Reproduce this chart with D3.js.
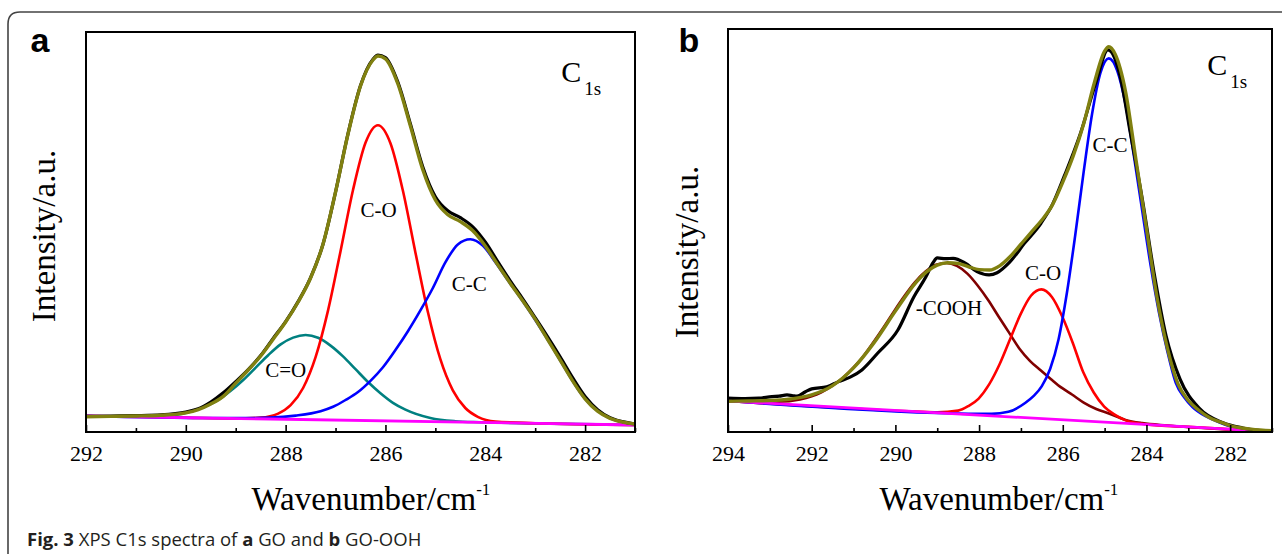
<!DOCTYPE html>
<html>
<head>
<meta charset="utf-8">
<script src="https://cdn.jsdelivr.net/npm/d3@7"></script>
<style>
  html, body { margin: 0; padding: 0; background: #fff; }
  svg { display: block; }
</style>
</head>
<body>
<svg id="fig" width="1282" height="554"></svg>
<script>
// ---- panel a : GO ----
const ticksA = [292, 291, 290, 289, 288, 287, 286, 285, 284, 283, 282, 281];
const baseA = [[292, 4.0], [281, 1.75]];
const coA = [[292, 4.0], [290, 3.6], [289.0, 3.4], [288.5, 3.6], [288.15, 4.6], [287.9, 6.7], [287.65, 11.0], [287.4, 18.7], [287.15, 30.4], [286.9, 45.2], [286.65, 60.5], [286.4, 72.3], [286.15, 76.7], [285.9, 72.2], [285.65, 60.3], [285.4, 44.9], [285.15, 30.0], [284.9, 18.2], [284.65, 10.4], [284.4, 6.0], [284.15, 3.8], [283.8, 2.6], [283.0, 2.2], [281, 1.75]];
const ccA = [[292, 4.0], [289.5, 3.5], [288.8, 3.5], [288.3, 3.6], [287.8, 4.1], [287.3, 5.2], [287.05, 6.3], [286.8, 8.0], [286.55, 10.0], [286.3, 12.8], [286.05, 16.2], [285.8, 20.5], [285.55, 25.2], [285.3, 30.4], [285.05, 36.0], [284.8, 42.4], [284.55, 46.9], [284.3, 48.2], [284.05, 46.6], [283.8, 42.5], [283.55, 38.0], [283.3, 33.6], [283.05, 29.0], [282.8, 24.1], [282.55, 19.0], [282.3, 13.8], [282.05, 9.1], [281.8, 5.8], [281.55, 3.7], [281.3, 2.6], [281, 2.0]];
const c2oA = [[292, 4.0], [291.0, 3.85], [290.6, 3.9], [290.1, 4.5], [289.6, 6.4], [289.35, 8.0], [289.1, 10.3], [288.85, 13.0], [288.6, 16.1], [288.35, 19.2], [288.1, 21.9], [287.85, 23.6], [287.6, 24.25], [287.35, 23.55], [287.1, 21.6], [286.85, 18.9], [286.6, 15.7], [286.35, 12.5], [286.1, 9.7], [285.85, 7.3], [285.6, 5.6], [285.1, 3.5], [284.6, 2.7], [284.1, 2.45], [283, 2.16], [281, 1.75]];
const fitA = [[292, 3.8], [291.5, 3.9], [291, 4.0], [290.5, 4.2], [290, 4.8], [289.75, 5.6], [289.5, 7.0], [289.25, 8.9], [289, 12.2], [288.75, 15.5], [288.5, 19.0], [288.25, 23.2], [288, 27.5], [287.75, 32.5], [287.5, 38.5], [287.25, 47.0], [287, 60.0], [286.75, 74.5], [286.5, 86.5], [286.25, 93.0], [286.15, 94.0], [286, 93.3], [285.75, 87.0], [285.5, 76.5], [285.25, 65.5], [285, 58.0], [284.75, 54.3], [284.5, 52.6], [284.25, 50.3], [284, 46.5], [283.75, 41.8], [283.5, 37.2], [283.25, 32.8], [283, 28.2], [282.75, 23.1], [282.5, 18.0], [282.25, 12.8], [282, 8.3], [281.75, 5.2], [281.5, 3.4], [281.25, 2.5], [281, 2.0]];
const rawA = [[292, 3.9], [291.5, 4.0], [291, 4.1], [290.5, 4.3], [290, 5.0], [289.75, 5.8], [289.5, 7.5], [289.25, 9.8], [289, 12.6], [288.75, 15.6], [288.5, 19.1], [288.25, 23.4], [288, 27.6], [287.75, 32.6], [287.5, 38.6], [287.25, 47.0], [287, 60.0], [286.75, 74.6], [286.5, 86.6], [286.25, 93.2], [286.15, 94.2], [286, 93.6], [285.75, 87.4], [285.5, 77.0], [285.25, 66.2], [285, 58.8], [284.75, 55.3], [284.5, 53.6], [284.25, 51.3], [284, 47.5], [283.75, 42.6], [283.5, 37.8], [283.25, 33.3], [283, 28.6], [282.75, 23.8], [282.5, 18.8], [282.25, 13.6], [282, 8.9], [281.75, 5.6], [281.5, 3.6], [281.25, 2.6], [281, 2.0]];

// ---- panel b : GO-OOH ----
const ticksB = [294, 293, 292, 291, 290, 289, 288, 287, 286, 285, 284, 283, 282, 281];
const baseB = [[294, 7.7], [281, 0.1]];
const ccB = [[294, 7.7], [288.6, 4.6], [288.1, 4.5], [287.7, 4.5], [287.3, 5.0], [286.9, 7.2], [286.7, 8.9], [286.5, 11.4], [286.3, 15.7], [286.1, 23.0], [285.9, 34.6], [285.7, 49.0], [285.5, 64.6], [285.3, 78.9], [285.1, 89.1], [284.9, 92.7], [284.7, 89.7], [284.5, 81.3], [284.3, 68.5], [284.1, 54.8], [283.9, 41.3], [283.7, 29.6], [283.5, 20.0], [283.3, 12.2], [283.1, 8.6], [282.9, 6.2], [282.6, 4.0], [282.4, 3.0], [282.0, 1.4], [281.5, 0.6], [281.0, 0.2]];
const coB = [[294, 7.7], [289.5, 5.07], [289.0, 4.9], [288.5, 5.3], [288.26, 6.4], [288.01, 8.3], [287.76, 11.8], [287.51, 16.8], [287.26, 23.0], [287.01, 29.2], [286.76, 33.8], [286.51, 35.4], [286.26, 33.5], [286.01, 28.6], [285.76, 22.1], [285.51, 14.8], [285.26, 9.8], [285.01, 6.3], [284.76, 4.3], [284.51, 2.95], [284.0, 1.9], [283, 1.27], [281, 0.1]];
const coohB = [[294, 7.7], [293.28, 7.5], [292.78, 7.5], [292.28, 8.1], [291.78, 9.8], [291.53, 11.3], [291.28, 13.2], [291.03, 15.7], [290.78, 18.6], [290.53, 22.2], [290.28, 26.0], [290.03, 30.0], [289.78, 33.8], [289.53, 37.2], [289.28, 39.8], [289.03, 41.5], [288.78, 41.95], [288.53, 41.2], [288.28, 39.3], [288.03, 36.3], [287.78, 32.7], [287.53, 28.6], [287.28, 24.6], [287.03, 20.6], [286.78, 17.6], [286.53, 15.3], [286.28, 13.1], [286.03, 11.0], [285.78, 9.3], [285.5, 7.3], [285.2, 5.7], [284.9, 4.6], [284.5, 3.0], [284.1, 2.2], [283.5, 1.6], [281, 0.1]];
const fitB = [[294, 7.6], [293.5, 7.7], [293, 7.8], [292.5, 8.2], [292, 9.2], [291.5, 11.5], [291, 15.9], [290.5, 22.3], [290, 30.0], [289.5, 37.2], [289.25, 39.8], [289, 41.4], [288.75, 42.0], [288.5, 41.8], [288.25, 41.0], [288, 40.3], [287.75, 40.2], [287.5, 41.3], [287.25, 43.6], [287, 46.6], [286.75, 49.6], [286.5, 52.6], [286.25, 56.3], [286, 62.0], [285.75, 68.5], [285.5, 76.5], [285.25, 86.5], [285, 94.5], [284.9, 95.6], [284.75, 93.8], [284.5, 84.5], [284.25, 67.5], [284, 50.5], [283.75, 33.5], [283.5, 20.8], [283.25, 12.0], [283, 7.8], [282.75, 5.4], [282.5, 3.6], [282.25, 2.5], [282, 1.6], [281.5, 0.7], [281, 0.3]];
const rawB = [[294.0, 8.4], [293.6, 8.3], [293.26, 8.4], [292.95, 8.8], [292.78, 8.9], [292.59, 9.2], [292.45, 9.0], [292.35, 8.9], [292.15, 10.0], [292.0, 10.7], [291.64, 11.2], [291.36, 12.5], [291.08, 13.6], [290.8, 15.4], [290.42, 19.6], [289.94, 25.3], [289.56, 33.5], [289.27, 38.5], [289.1, 42.0], [289.0, 43.2], [288.8, 43.0], [288.62, 43.1], [288.33, 41.9], [288.05, 39.8], [287.76, 39.0], [287.57, 39.5], [287.28, 42.0], [286.9, 47.0], [286.52, 51.8], [286.24, 56.6], [285.96, 63.6], [285.58, 74.0], [285.2, 87.0], [284.92, 94.8], [284.63, 88.3], [284.39, 74.5], [284.1, 57.8], [283.82, 39.6], [283.53, 23.8], [283.2, 13.2], [282.73, 5.8], [282.17, 2.3], [281.7, 1.0], [281.0, 0.1]];

const svg = d3.select("#fig");
const serif = "'Liberation Serif', 'Times New Roman', serif";

// outer figure frame
svg.append("path")
  .attr("d", "M8,600 L8,24 Q8,12 20,12 L1300,12")
  .attr("fill", "none")
  .attr("stroke", "#444")
  .attr("stroke-width", 1.6);

function drawPanel(p) {
  const x = d3.scaleLinear().domain(p.xDomain).range([p.left, p.right]);
  const y = d3.scaleLinear().domain([0, 100]).range([p.bottom, p.top]);
  const g = svg.append("g");

  const clipId = "clip-" + p.name;
  svg.append("clipPath").attr("id", clipId)
    .append("rect")
    .attr("x", p.left).attr("y", p.top)
    .attr("width", p.right - p.left).attr("height", p.bottom - p.top);

  const line = d3.line()
    .x(d => x(d[0]))
    .y(d => y(d[1]))
    .curve(d3.curveMonotoneX);

  const curves = g.append("g").attr("clip-path", `url(#${clipId})`);
  p.series.forEach(s => {
    curves.append("path")
      .datum(s.data)
      .attr("d", line)
      .attr("fill", "none")
      .attr("stroke", s.color)
      .attr("stroke-width", s.width)
      .attr("stroke-linejoin", "round")
      .attr("stroke-linecap", "round");
  });

  // ticks pointing inward, labels on even values
  const major = p.ticks.filter(t => t % 2 === 0);
  const minor = p.ticks.filter(t => t % 2 !== 0);
  const axMajor = g.append("g")
    .attr("transform", `translate(0,${p.bottom})`)
    .call(d3.axisBottom(x).tickValues(major).tickSize(-7).tickPadding(13).tickFormat(d3.format("d")));
  const axMinor = g.append("g")
    .attr("transform", `translate(0,${p.bottom})`)
    .call(d3.axisBottom(x).tickValues(minor).tickSize(-4).tickFormat(""));
  [axMajor, axMinor].forEach(a => {
    a.select(".domain").remove();
    a.selectAll("line").attr("stroke", "#000").attr("stroke-width", 1.6);
  });
  axMajor.selectAll("text")
    .attr("font-family", serif)
    .attr("font-size", 22)
    .attr("fill", "#000");

  // plot box
  g.append("rect")
    .attr("x", p.left).attr("y", p.top)
    .attr("width", p.right - p.left).attr("height", p.bottom - p.top)
    .attr("fill", "none")
    .attr("stroke", "#000")
    .attr("stroke-width", 2);

  // peak labels
  p.labels.forEach(l => {
    g.append("text")
      .attr("x", x(l.x)).attr("y", y(l.y))
      .attr("text-anchor", "middle")
      .attr("font-family", serif)
      .attr("font-size", 21)
      .text(l.text);
  });

  // C1s
  const c1s = g.append("text")
    .attr("x", x(p.c1s[0])).attr("y", y(p.c1s[1]))
    .attr("font-family", serif);
  c1s.append("tspan").attr("font-size", 30).text("C");
  c1s.append("tspan").attr("font-size", 19).attr("dx", 3).attr("dy", 13).text("1s");

  // axis titles
  const xt = g.append("text")
    .attr("x", p.xTitleX).attr("y", 510)
    .attr("text-anchor", "middle")
    .attr("font-family", serif)
    .attr("font-size", 33);
  xt.append("tspan").text("Wavenumber/cm");
  xt.append("tspan").attr("font-size", 17).attr("dy", -15).text("-1");

  g.append("text")
    .attr("transform", `translate(${p.yTitleX},${p.yTitleY}) rotate(-90)`)
    .attr("text-anchor", "middle")
    .attr("font-family", serif)
    .attr("font-size", 33)
    .text("Intensity/a.u.");

  // panel letter
  g.append("text")
    .attr("x", p.letterX).attr("y", 52)
    .attr("font-family", "'Liberation Sans', Arial, sans-serif")
    .attr("font-weight", "bold")
    .attr("font-size", 34)
    .attr("text-anchor", "middle")
    .text(p.name);
}

drawPanel({
  name: "a",
  xDomain: [292, 281], left: 86, right: 635, top: 32, bottom: 432,
  ticks: ticksA,
  series: [
    {data: c2oA, color: "#008080", width: 2.6},
    {data: coA, color: "#ff0000", width: 2.6},
    {data: ccA, color: "#0000ff", width: 2.6},
    {data: baseA, color: "#ff00ff", width: 2.8},
    {data: rawA, color: "#000000", width: 3.2},
    {data: fitA, color: "#808010", width: 3.4}
  ],
  labels: [
    {text: "C-O", x: 286.14, y: 53.7},
    {text: "C-C", x: 284.32, y: 35.2},
    {text: "C=O", x: 288.0, y: 13.7}
  ],
  c1s: [282.48, 87.5],
  xTitleX: 371, yTitleX: 55, yTitleY: 236, letterX: 40
});

drawPanel({
  name: "b",
  xDomain: [294, 281], left: 728, right: 1272, top: 29, bottom: 432,
  ticks: ticksB,
  series: [
    {data: coohB, color: "#800000", width: 2.6},
    {data: coB, color: "#ff0000", width: 2.6},
    {data: ccB, color: "#0000ff", width: 2.6},
    {data: baseB, color: "#ff00ff", width: 2.8},
    {data: rawB, color: "#000000", width: 3.2},
    {data: fitB, color: "#808010", width: 3.4}
  ],
  labels: [
    {text: "C-C", x: 284.87, y: 69.5},
    {text: "C-O", x: 286.47, y: 37.7},
    {text: "-COOH", x: 288.72, y: 29.0}
  ],
  c1s: [282.55, 88.6],
  xTitleX: 999, yTitleX: 698, yTitleY: 252, letterX: 689
});

// caption
const cap = svg.append("text")
  .attr("x", 27).attr("y", 546)
  .attr("font-family", "'Open Sans', 'Noto Sans', sans-serif")
  .attr("font-size", 18.5)
  .attr("fill", "#231f20");
cap.append("tspan").attr("font-weight", "bold").text("Fig. 3");
cap.append("tspan").text(" XPS C1s spectra of ");
cap.append("tspan").attr("font-weight", "bold").text("a");
cap.append("tspan").text(" GO and ");
cap.append("tspan").attr("font-weight", "bold").text("b");
cap.append("tspan").text(" GO-OOH");
</script>
</body>
</html>
